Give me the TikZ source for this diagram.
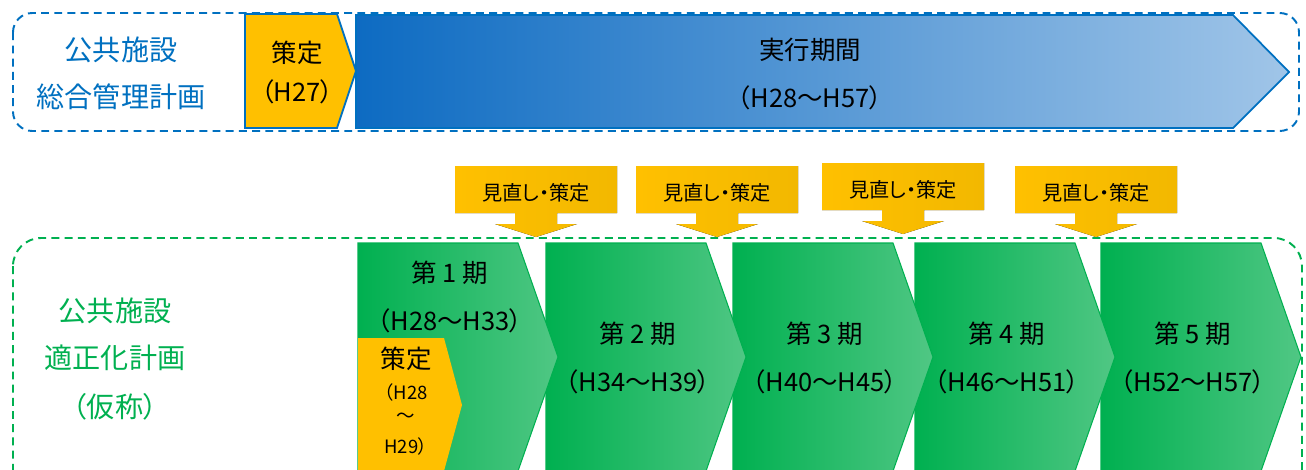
\documentclass[tikz,border=0pt]{standalone}
\usepackage{fontspec}
\setmainfont[RawFeature=+palt]{Noto Sans CJK JP}
\usepackage{tikz}

\definecolor{mgmtblue}{HTML}{0070C0}
\definecolor{arrowdark}{HTML}{0D6BC2}
\definecolor{arrowlight}{HTML}{A0C5E8}
\definecolor{planorange}{HTML}{FFC000}
\definecolor{calloutdark}{HTML}{F2B800}
\definecolor{phasegreen}{HTML}{00B050}
\definecolor{phaselight}{HTML}{50C784}

\begin{document}
\begin{tikzpicture}[x=0.02cm,y=-0.02cm,
    bluetext/.style={text=mgmtblue,font=\fontsize{16}{19}\selectfont},
    greentext/.style={text=phasegreen,font=\fontsize{16}{19}\selectfont},
    bigtext/.style={font=\fontsize{14.5}{17}\selectfont},
    smalltext/.style={font=\fontsize{10.5}{12}\selectfont},
    calltext/.style={font=\fontsize{11.5}{13}\selectfont},
    planframe/.style={dash pattern=on 4.5pt off 3pt,line width=1.1pt}]
     \useasboundingbox (0,0) rectangle (1306,470);

     % upper plan
     \draw [planframe,mgmtblue,rounded corners=11pt] (13,13) rectangle (1299,131);
     \draw [mgmtblue,line width=1pt,left color=arrowdark,right color=arrowlight]
         (356,15) -- (1233,15) -- (1289,72) -- (1233,128) -- (356,128) -- cycle;       % execution period
     \draw [mgmtblue,line width=1pt,fill=planorange]
         (245,14) -- (337,14) -- (356,71) -- (337,128) -- (245,128) -- cycle;          % drafting
     \draw (121,50) node (mgmt1) [bluetext] {公共施設};
     \draw (121,97) node (mgmt2) [bluetext] {総合管理計画};
     \draw (297,53) node (draft) [bigtext] {策定};
     \draw (297,92) node (draftyr) [bigtext] {（H27）};
     \draw (810,50) node (exec) [bigtext] {実行期間};
     \draw (810,98) node (execyr) [bigtext] {（H28～H57）};

     % lower plan
     \draw [planframe,phasegreen,rounded corners=16pt] (13,238) rectangle (1302,500);
     \draw (115,311) node (opt1) [greentext] {公共施設};
     \draw (115,358) node (opt2) [greentext] {適正化計画};
     \draw (115,407) node (opt3) [greentext] {（仮称）};

     \foreach \n/\xl/\yrs/\ya in {5/1101/H52～H57/334,4/915/H46～H51/334,3/733/H40～H45/334,
                                  2/546/H34～H39/334,1/358/H28～H33/273} {
         \draw [phasegreen,line width=0.6pt,left color=phasegreen,right color=phaselight]
             (\xl,243) -- (\xl+160,243) -- (\xl+200,357) -- (\xl+160,471) -- (\xl,471) -- cycle;
         \draw (\xl+92,\ya) node (phase\n) [bigtext] {第 \n\ 期};
         \draw (\xl+92,\ya+48) node (years\n) [bigtext] {（\yrs）};
     }
     \fill [planorange] (358,338) -- (444,338) -- (462,405) -- (444,471) -- (358,471) -- cycle;
     \draw (406,359) node (firstdraft) [bigtext] {策定};
     \draw (406,392) node (firstyr1) [smalltext] {（H28};
     \draw (406,418) node (firstyr2) [smalltext] {～};
     \draw (406,446) node (firstyr3) [smalltext] {H29）};

     % reviews
     \foreach \cx/\cy [count=\i] in {536/166,717/166,903/163,1096/166} {
         \fill [left color=planorange,right color=calloutdark]
             (\cx-81,\cy) -- (\cx+81,\cy) -- (\cx+81,\cy+47) -- (\cx+21,\cy+47) -- (\cx+21,\cy+58)
             -- (\cx+41,\cy+58) -- (\cx,\cy+71) -- (\cx-41,\cy+58) -- (\cx-21,\cy+58)
             -- (\cx-21,\cy+47) -- (\cx-81,\cy+47) -- cycle;
         \draw (\cx,\cy+27) node (review\i) [calltext] {見直し・策定};
     }
\end{tikzpicture}
\end{document}
